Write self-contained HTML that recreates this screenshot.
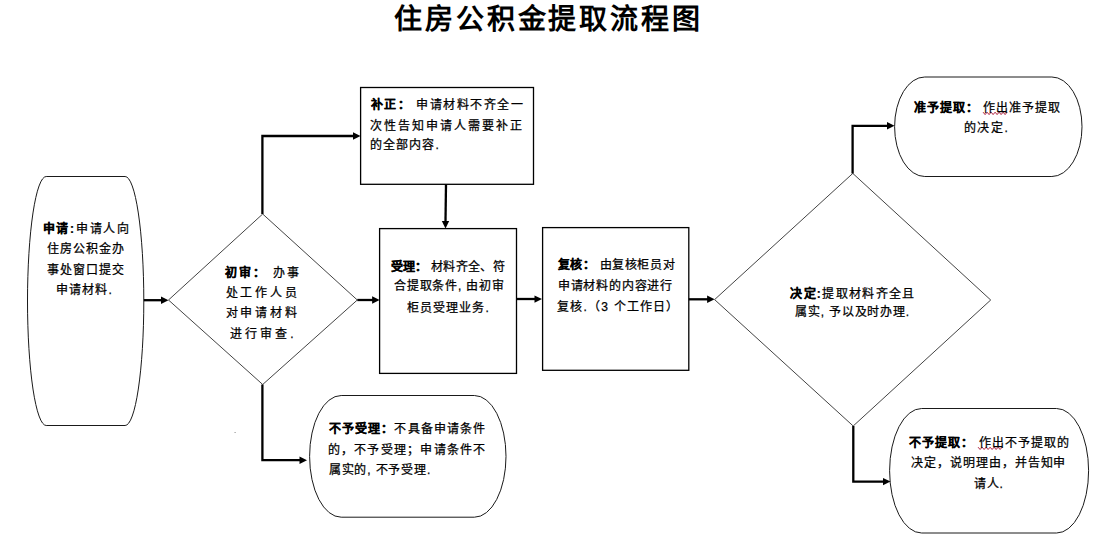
<!DOCTYPE html>
<html lang="zh-CN"><head><meta charset="utf-8"><style>
html,body{margin:0;padding:0;background:#fff;width:1103px;height:555px;overflow:hidden}
body{position:relative;font-family:"Liberation Sans", sans-serif;color:#000}
svg{position:absolute;left:0;top:0}
.t{position:absolute;white-space:nowrap;color:#000}
</style></head><body>
<svg width="1103" height="555" viewBox="0 0 1103 555">
<path d="M46.21,176.5 H125.09 A18.71,124.5 0 0 1 143.8,301.0 A18.71,124.5 0 0 1 125.09,425.5 H46.21 A18.71,124.5 0 0 1 27.5,301.0 A18.71,124.5 0 0 1 46.21,176.5 Z" fill="none" stroke="#1a1a1a" stroke-width="1.0"/>
<path d="M168.5,300 L262.7,214 L357.3,300 L262.7,384.5 Z" fill="none" stroke="#444" stroke-width="1"/>
<path d="M714.6,299.6 L852.8,173.4 L990.7,300 L853.2,426 Z" fill="none" stroke="#444" stroke-width="1"/>
<rect x="360.6" y="87.5" width="172.9" height="96.8" fill="none" stroke="#000" stroke-width="1.3"/>
<rect x="379.6" y="228.6" width="136.9" height="144.8" fill="none" stroke="#000" stroke-width="1.3"/>
<rect x="542.6" y="227.6" width="146.2" height="142.7" fill="none" stroke="#000" stroke-width="1.3"/>
<path d="M924.75,77.0 H1051.85 A30.15,49.75 0 0 1 1082,126.75 A30.15,49.75 0 0 1 1051.85,176.5 H924.75 A30.15,49.75 0 0 1 894.6,126.75 A30.15,49.75 0 0 1 924.75,77.0 Z" fill="none" stroke="#1a1a1a" stroke-width="1.0"/>
<path d="M921.62,408.5 H1056.58 A32.02,62.25 0 0 1 1088.6,470.75 A32.02,62.25 0 0 1 1056.58,533.0 H921.62 A32.02,62.25 0 0 1 889.6,470.75 A32.02,62.25 0 0 1 921.62,408.5 Z" fill="none" stroke="#1a1a1a" stroke-width="1.0"/>
<path d="M341.20000000000005,395.5 H474.4 A31.6,60.85000000000002 0 0 1 506,456.35 A31.6,60.85000000000002 0 0 1 474.4,517.2 H341.20000000000005 A31.6,60.85000000000002 0 0 1 309.6,456.35 A31.6,60.85000000000002 0 0 1 341.20000000000005,395.5 Z" fill="none" stroke="#1a1a1a" stroke-width="1.0"/>
<polyline points="143.8,300.2 162,300.2" fill="none" stroke="#000" stroke-width="2.3" stroke-linejoin="miter"/>
<path d="M168.5,300.2 L161.0,296.5 L161.0,303.9 Z" fill="#000"/>
<polyline points="262.4,214 262.4,136 354,136" fill="none" stroke="#000" stroke-width="2.3" stroke-linejoin="miter"/>
<path d="M360.5,136 L353.0,132.3 L353.0,139.7 Z" fill="#000"/>
<polyline points="446,184.3 445.5,221" fill="none" stroke="#000" stroke-width="2.3" stroke-linejoin="miter"/>
<path d="M445.5,228.4 L441.8,220.9 L449.2,220.9 Z" fill="#000"/>
<polyline points="357.3,300 373,300" fill="none" stroke="#000" stroke-width="2.3" stroke-linejoin="miter"/>
<path d="M379.6,300 L372.1,296.3 L372.1,303.7 Z" fill="#000"/>
<polyline points="516.5,299 535,299" fill="none" stroke="#000" stroke-width="2.3" stroke-linejoin="miter"/>
<path d="M542,299.1 L534.5,295.40000000000003 L534.5,302.8 Z" fill="#000"/>
<polyline points="688.8,299.3 708,299.3" fill="none" stroke="#000" stroke-width="2.3" stroke-linejoin="miter"/>
<path d="M714.6,299.3 L707.1,295.6 L707.1,303.0 Z" fill="#000"/>
<polyline points="852.6,173.4 852.6,125.8 888,125.8" fill="none" stroke="#000" stroke-width="2.3" stroke-linejoin="miter"/>
<path d="M894.5,125.8 L887.0,122.1 L887.0,129.5 Z" fill="#000"/>
<polyline points="853.3,426 853.3,481.6 884,481.6" fill="none" stroke="#000" stroke-width="2.3" stroke-linejoin="miter"/>
<path d="M890.5,481.6 L883.0,477.90000000000003 L883.0,485.3 Z" fill="#000"/>
<polyline points="262.4,384.5 262.4,460.2 300,460.2" fill="none" stroke="#000" stroke-width="2.3" stroke-linejoin="miter"/>
<path d="M307,460.2 L299.5,456.5 L299.5,463.9 Z" fill="#000"/>
<polyline points="983.1,112.2 985.1,114.6 987.1,112.2 989.1,114.6 991.1,112.2 993.1,114.6 995.1,112.2 997.1,114.6 999.1,112.2 1001.1,114.6 1003.1,112.2 1005.1,114.6 1007.1,112.2" fill="none" stroke="#b02040" stroke-width="1"/>
<polyline points="978.1,447.2 980.1,449.5 982.1,447.2 984.1,449.5 986.1,447.2 988.1,449.5 990.1,447.2 992.1,449.5 994.1,447.2 996.1,449.5 998.1,447.2 1000.1,449.5 1002.1,447.2" fill="none" stroke="#b02040" stroke-width="1"/>
<rect x="234.5" y="432" width="1.2" height="1" fill="#999"/>
</svg>
<div class="t" style="left:393.6px;top:6.3px;font-size:28px;line-height:28px;letter-spacing:2.978px"><span style="font-weight:bold">住房公积金提取流程图</span></div>
<div class="t" style="left:42.6px;top:222.6px;font-size:12px;line-height:12px;letter-spacing:1.733px"><span style="font-weight:bold;-webkit-text-stroke:0.2px #000">申请:</span><span style="-webkit-text-stroke:0.25px #000">申请人向</span></div>
<div class="t" style="left:47.3px;top:242.8px;font-size:12px;line-height:12px;letter-spacing:0.88px"><span style="-webkit-text-stroke:0.25px #000">住房公积金办</span></div>
<div class="t" style="left:47.3px;top:263.9px;font-size:12px;line-height:12px;letter-spacing:0.88px"><span style="-webkit-text-stroke:0.25px #000">事处窗口提交</span></div>
<div class="t" style="left:56.0px;top:284.1px;font-size:12px;line-height:12px;letter-spacing:1.15px"><span style="-webkit-text-stroke:0.25px #000">申请材料.</span></div>
<div class="t" style="left:225.0px;top:266.7px;font-size:12px;line-height:12px;letter-spacing:2.12px"><span style="font-weight:bold;-webkit-text-stroke:0.2px #000">初审：</span><span style="-webkit-text-stroke:0.25px #000"> 办事</span></div>
<div class="t" style="left:225.5px;top:287.0px;font-size:12px;line-height:12px;letter-spacing:2.9px"><span style="-webkit-text-stroke:0.25px #000">处工作人员</span></div>
<div class="t" style="left:225.5px;top:307.3px;font-size:12px;line-height:12px;letter-spacing:2.9px"><span style="-webkit-text-stroke:0.25px #000">对申请材料</span></div>
<div class="t" style="left:230.4px;top:327.5px;font-size:12px;line-height:12px;letter-spacing:2.95px"><span style="-webkit-text-stroke:0.25px #000">进行审查.</span></div>
<div class="t" style="left:370.6px;top:99.4px;font-size:12px;line-height:12px;letter-spacing:1.527px"><span style="font-weight:bold;-webkit-text-stroke:0.2px #000">补正：</span><span style="-webkit-text-stroke:0.25px #000"> 申请材料不齐全一</span></div>
<div class="t" style="left:369.6px;top:119.8px;font-size:12px;line-height:12px;letter-spacing:2.04px"><span style="-webkit-text-stroke:0.25px #000">次性告知申请人需要补正</span></div>
<div class="t" style="left:369.6px;top:138.5px;font-size:12px;line-height:12px;letter-spacing:1.16px"><span style="-webkit-text-stroke:0.25px #000">的全部内容.</span></div>
<div class="t" style="left:390.8px;top:260.6px;font-size:12px;line-height:12px;letter-spacing:0.267px"><span style="font-weight:bold;-webkit-text-stroke:0.2px #000">受理：</span><span style="-webkit-text-stroke:0.25px #000"> 材料齐全、符</span></div>
<div class="t" style="left:394.0px;top:280.4px;font-size:12px;line-height:12px;letter-spacing:0.778px"><span style="-webkit-text-stroke:0.25px #000">合提取条件, 由初审</span></div>
<div class="t" style="left:407.3px;top:301.8px;font-size:12px;line-height:12px;letter-spacing:1.033px"><span style="-webkit-text-stroke:0.25px #000">柜员受理业务.</span></div>
<div class="t" style="left:557.7px;top:259.3px;font-size:12px;line-height:12px;letter-spacing:0.622px"><span style="font-weight:bold;-webkit-text-stroke:0.2px #000">复核：</span><span style="-webkit-text-stroke:0.25px #000"> 由复核柜员对</span></div>
<div class="t" style="left:557.7px;top:280.2px;font-size:12px;line-height:12px;letter-spacing:0.825px"><span style="-webkit-text-stroke:0.25px #000">申请材料的内容进行</span></div>
<div class="t" style="left:557.0px;top:301.2px;font-size:12px;line-height:12px;letter-spacing:1.2px"><span style="-webkit-text-stroke:0.25px #000">复核.（3 个工作日）</span></div>
<div class="t" style="left:790.2px;top:288.3px;font-size:12px;line-height:12px;letter-spacing:1.333px"><span style="font-weight:bold;-webkit-text-stroke:0.2px #000">决定:</span><span style="-webkit-text-stroke:0.25px #000">提取材料齐全且</span></div>
<div class="t" style="left:795.2px;top:306.2px;font-size:12px;line-height:12px;letter-spacing:0.78px"><span style="-webkit-text-stroke:0.25px #000">属实, 予以及时办理.</span></div>
<div class="t" style="left:914.2px;top:101.6px;font-size:12px;line-height:12px;letter-spacing:0.945px"><span style="font-weight:bold;-webkit-text-stroke:0.2px #000">准予提取：</span><span style="-webkit-text-stroke:0.25px #000"> 作出准予提取</span></div>
<div class="t" style="left:964.0px;top:122.4px;font-size:12px;line-height:12px;letter-spacing:1.467px"><span style="-webkit-text-stroke:0.25px #000">的决定.</span></div>
<div class="t" style="left:909.2px;top:436.5px;font-size:12px;line-height:12px;letter-spacing:1.017px"><span style="font-weight:bold;-webkit-text-stroke:0.2px #000">不予提取：</span><span style="-webkit-text-stroke:0.25px #000"> 作出不予提取的</span></div>
<div class="t" style="left:911.1px;top:457.1px;font-size:12px;line-height:12px;letter-spacing:0.945px"><span style="-webkit-text-stroke:0.25px #000">决定，说明理由，并告知申</span></div>
<div class="t" style="left:973.8px;top:477.8px;font-size:12px;line-height:12px;letter-spacing:0.8px"><span style="-webkit-text-stroke:0.25px #000">请人.</span></div>
<div class="t" style="left:328.7px;top:423.4px;font-size:12px;line-height:12px;letter-spacing:1.145px"><span style="font-weight:bold;-webkit-text-stroke:0.2px #000">不予受理：</span><span style="-webkit-text-stroke:0.25px #000">不具备申请条件</span></div>
<div class="t" style="left:327.7px;top:444.0px;font-size:12px;line-height:12px;letter-spacing:1.236px"><span style="-webkit-text-stroke:0.25px #000">的，不予受理；申请条件不</span></div>
<div class="t" style="left:328.7px;top:463.9px;font-size:12px;line-height:12px;letter-spacing:0.844px"><span style="-webkit-text-stroke:0.25px #000">属实的, 不予受理.</span></div>
</body></html>
